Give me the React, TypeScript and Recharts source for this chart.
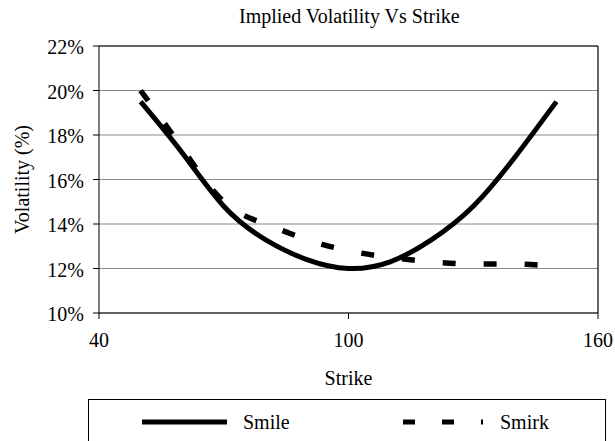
import { CartesianGrid, Line, LineChart, ReferenceLine, XAxis, YAxis } from "recharts";

const strikes = [50, 60, 70, 80, 90, 100, 110, 120, 130, 140, 150];
const smile = [19.5, 17.2, 14.8, 13.3, 12.4, 12.0, 12.3, 13.3, 14.8, 17.0, 19.5];
const smirk = [20.0, 17.4, 15.0, 14.0, 13.3, 12.8, 12.5, 12.3, 12.2, 12.2, 12.1];
const xTicks = [40, 100, 160];
const yTicks = [10, 12, 14, 16, 18, 20, 22];

const FONT = "Liberation Serif, Tinos, DejaVu Serif, serif";

const rows = strikes.map((s, i) => ({ strike: s, smile: smile[i], smirk: smirk[i] }));

function YTick(props: any) {
  const { x, y, payload } = props;
  return (
    <text x={x} y={y + 8} textAnchor="end" fontFamily={FONT} fontSize={20} fill="#000">
      {payload.value}%
    </text>
  );
}

function XTick(props: any) {
  const { x, y, payload } = props;
  return (
    <text x={x} y={y + 28} textAnchor="middle" fontFamily={FONT} fontSize={20} fill="#000">
      {payload.value}
    </text>
  );
}

export default function App() {
  return (
    <div style={{ position: "absolute", left: 0, top: 0, width: 615, height: 441, background: "#fff", overflow: "hidden", fontFamily: FONT }}>
      <div style={{ position: "absolute", left: 239, top: 5, width: 200, textAlign: "center", fontSize: 20, whiteSpace: "nowrap", color: "#000" }}>
        Implied Volatility Vs Strike
      </div>
      <LineChart width={615} height={441} data={rows} margin={{ top: 46, right: 17, bottom: 98, left: 0 }}>
        <CartesianGrid horizontal vertical={false} stroke="#8a8a8a" strokeWidth={1.2} />
        <XAxis
          dataKey="strike"
          type="number"
          domain={[40, 160]}
          ticks={xTicks}
          height={30}
          stroke="#000"
          tickSize={6}
          tickMargin={0}
          tick={<XTick />}
          label={{
            content: ({ viewBox }: any) => (
              <text x={viewBox.x + viewBox.width / 2} y={385} textAnchor="middle" fontFamily={FONT} fontSize={20} fill="#000">
                Strike
              </text>
            ),
          }}
        />
        <YAxis
          type="number"
          domain={[10, 22]}
          ticks={yTicks}
          width={99}
          stroke="#000"
          tickSize={6}
          tickMargin={9}
          tick={<YTick />}
          label={{
            content: ({ viewBox }: any) => {
              const cy = viewBox.y + viewBox.height / 2;
              return (
                <text x={29} y={cy} transform={`rotate(-90 29 ${cy})`} textAnchor="middle" fontFamily={FONT} fontSize={20} fill="#000">
                  Volatility (%)
                </text>
              );
            },
          }}
        />
        <ReferenceLine y={22} stroke="#000" strokeWidth={1.2} />
        <ReferenceLine x={160} stroke="#000" strokeWidth={1.2} />
        <Line type="natural" dataKey="smile" stroke="#000" strokeWidth={5} dot={false} isAnimationActive={false} />
        <Line
          type="natural"
          dataKey="smirk"
          stroke="#000"
          strokeWidth={5.5}
          strokeDasharray="13 28"
          dot={false}
          isAnimationActive={false}
        />
      </LineChart>
      <div
        style={{
          position: "absolute",
          left: 88,
          top: 399,
          width: 518,
          height: 42,
          borderTop: "1px solid #000",
          borderLeft: "1px solid #000",
          borderRight: "1px solid #000",
          boxSizing: "border-box",
        }}
      >
        <svg width={516} height={41} style={{ position: "absolute", left: 0, top: 0 }}>
          <line x1={53} x2={138} y1={22} y2={22} stroke="#000" strokeWidth={5} />
          <text x={154} y={29} fontFamily={FONT} fontSize={20} fill="#000">Smile</text>
          <line x1={314} x2={394} y1={22} y2={22} stroke="#000" strokeWidth={5} strokeDasharray="12 27" />
          <text x={411} y={29} fontFamily={FONT} fontSize={20} fill="#000">Smirk</text>
        </svg>
      </div>
    </div>
  );
}
